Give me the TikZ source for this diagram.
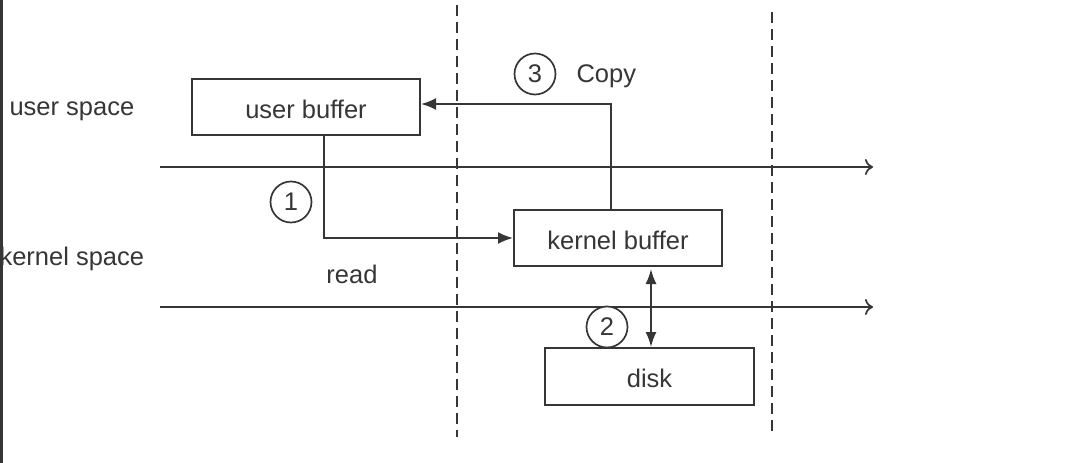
\documentclass[tikz,border=0pt]{standalone}
\usepackage{fontspec}
\setmainfont{Liberation Sans}
\usetikzlibrary{arrows.meta,calc}
\definecolor{ink}{HTML}{363636}
\begin{document}
\begin{tikzpicture}[x=1pt,y=-1pt,
  every node/.style={text=ink,font=\fontsize{25.5}{30}\selectfont},
  box/.style={draw=ink,line width=2pt,rectangle,inner sep=0pt,text height=22pt,text depth=0pt},
  num/.style={draw=ink,line width=1.7pt,circle,minimum size=41pt,inner sep=0pt},
  conn/.style={draw=ink,line width=1.9pt,-{Latex[length=15pt,width=12pt]}},
  dbl/.style={draw=ink,line width=1.9pt,{Latex[length=15pt,width=11pt]}-{Latex[length=15pt,width=11pt]}},
  axis/.style={draw=ink,line width=1.7pt,-{To[length=8pt,width=16pt,line width=1.7pt]}},
  sep/.style={draw=ink,line width=1.8pt,dash pattern=on 11pt off 6pt}]
\path[use as bounding box,fill=white] (0,0) rectangle (1080,463);
% left border
\draw[ink,line width=2.5pt] (1.5,0) -- (1.5,463);
% dashed separators
\coordinate (d1t) at (457,5);  \coordinate (d1b) at (457,437);
\coordinate (d2t) at (772,12); \coordinate (d2b) at (772,437);
\draw[sep] (d1t) -- (d1b);
\draw[sep] (d2t) -- (d2b);
% axes
\coordinate (a1s) at (160,167); \coordinate (a1e) at (873,167);
\coordinate (a2s) at (160,307); \coordinate (a2e) at (873,307);
\draw[axis] (a1s) -- (a1e);
\draw[axis] (a2s) -- (a2e);
% labels
\node[anchor=west] (us) at (6,111) {user space};
\node[anchor=west] (ks) at (-4,259) {kernel space};
\node (rd) at (352,274) {read};
% boxes
\node[box,minimum width=228pt,minimum height=56pt,fill=white] (ub) at (306,107) {user buffer};
\node[box,minimum width=208pt,minimum height=56pt,fill=white] (kb) at (618,238) {kernel buffer};
\node[box,minimum width=209pt,minimum height=57pt,fill=white] (dk) at (649.5,376.5) {disk};
% numbers
\node[num] (c1) at (291,202) {1};
\node[num] (c3) at (535,74) {3};
\node[anchor=west] (cp) at (573,76) {Copy};
\node[num,fill=white] (c2) at (607,327) {2};
% connectors
\draw[conn] ([xshift=18pt]ub.south) |- (kb.west);
\draw[conn] ([xshift=-7pt]kb.north) |- ([yshift=3pt]ub.east);
\draw[dbl] ([xshift=33pt,yshift=-2pt]kb.south) -- ([xshift=33pt]kb.south |- dk.north);
\end{tikzpicture}
\end{document}
